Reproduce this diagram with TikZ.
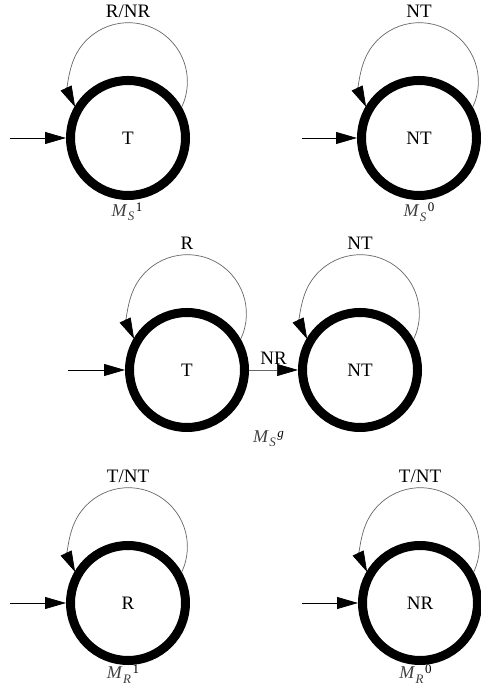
\documentclass[tikz,border=0pt]{standalone}
\usepackage{fontspec}
\setmainfont{Liberation Serif}
\usetikzlibrary{arrows.meta}
\newcommand\Mlab[2]{{\color{black!75}\textit{M}\hspace{0.5pt}\raisebox{-4.5pt}{\fontsize{13}{13}\selectfont\textit{#1}}}\hspace{1.5pt}\raisebox{5pt}{\fontsize{13}{13}\selectfont #2}}
\begin{document}
\begin{tikzpicture}[x=1pt,y=1pt,
  st/.style={circle,draw,line width=9pt,minimum size=115pt,inner sep=0pt,font=\fontsize{19}{22}\selectfont},
  tipb/.style={-{Triangle[length=21pt,width=12pt,color=black]}},
  entry/.style={tipb,line width=0.8pt},
  lp/.style={tipb,draw=black!60,line width=0.7pt},
  lab/.style={font=\fontsize{19}{22}\selectfont,inner sep=0pt},
  mlab/.style={font=\fontsize{18}{20}\selectfont,inner sep=0pt}]
\useasboundingbox (0,0) rectangle (480,692);
% states
\node[st] (a) at (128,554) {T};
\node[st] (b) at (419,554) {NT};
\node[st] (c) at (187,322) {T};
\node[st] (d) at (360,322) {NT};
\node[st] (e) at (128,89) {R};
\node[st] (f) at (420,89) {NR};
% entry points
\coordinate (a0) at (10,554);
\coordinate (b0) at (302,554);
\coordinate (c0) at (68,322);
\coordinate (e0) at (10,89);
\coordinate (f0) at (302,89);
\draw[entry] (a0) -- (a.west);
\draw[entry] (b0) -- (b.west);
\draw[entry] (c0) -- (c.west);
\draw[entry] (e0) -- (e.west);
\draw[entry] (f0) -- (f.west);
% loops
\foreach \n in {a,b,c,d,e,f}{
  \draw[lp] (\n.30.7) arc[start angle=-25.4,end angle=205.4,radius=59];
}
\node[lab] (la) at ([yshift=127pt]a.center) {R/NR};
\node[lab] (lb) at ([yshift=127pt]b.center) {NT};
\node[lab] (lc) at ([yshift=127pt]c.center) {R};
\node[lab] (ld) at ([yshift=127pt]d.center) {NT};
\node[lab] (le) at ([yshift=127pt]e.center) {T/NT};
\node[lab] (lf) at ([yshift=127pt]f.center) {T/NT};
% transition
\draw[lp] (c.east) -- node[lab,above=5pt] (nr) {NR} (d.west);
% machine labels
\node[mlab] (ma) at (127,480) {\Mlab{S}{1}};
\node[mlab] (mb) at (419,480) {\Mlab{S}{0}};
\node[mlab] (mc) at (268.5,253.5) {\Mlab{S}{\textit{g}}};
\node[mlab] (me) at (123,18) {\Mlab{R}{1}};
\node[mlab] (mf) at (415.5,18) {\Mlab{R}{0}};
\end{tikzpicture}
\end{document}
